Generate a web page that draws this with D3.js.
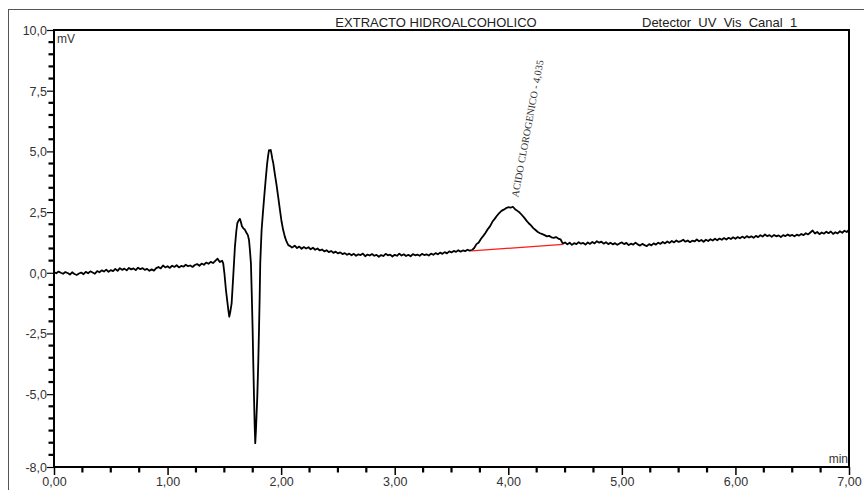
<!DOCTYPE html>
<html><head><meta charset="utf-8">
<script src="https://cdn.jsdelivr.net/npm/d3@7"></script>
<style>
html,body{margin:0;padding:0;background:#fff;}
svg{display:block;}
</style></head>
<body>
<svg id="chart" width="864" height="490"></svg>
<script>
// ---------- DATA ----------
const title = "EXTRACTO HIDROALCOHOLICO";
const detectorLabel = "Detector  UV  Vis  Canal  1";
const yUnit = "mV";
const xUnit = "min";
const peakLabel = "ACIDO CLOROGENICO - 4,035";
const xTickValues = [0,1,2,3,4,5,6,7];
const xMinorTicks = [0.25,0.5,0.75,1.25,1.5,1.75,2.25,2.5,2.75,3.25,3.5,3.75,4.25,4.5,4.75,5.25,5.5,5.75,6.25,6.5,6.75];
const yTickValues = [10,7.5,5,2.5,0,-2.5,-5,-8];
const yMinorTicks = [9.5,9,8.5,8,7,6.5,6,5.5,4.5,4,3.5,3,2,1.5,1,0.5,-0.5,-1,-1.5,-2,-3,-3.5,-4,-4.5,-5.5,-6,-6.5,-7,-7.5];
// integration baseline of the chlorogenic acid peak [min, mV]
const peakBaseline = [[3.677,0.90],[4.483,1.17]];

// chromatogram trace, [time (min), signal (mV)]
const traceStart = [
[0.00,0.03],[0.02,-0.02],[0.04,0.05],[0.06,0.00],[0.08,-0.04],[0.10,0.03],[0.12,-0.01],[0.14,-0.07],[0.16,0.02],[0.18,-0.05],
[0.20,-0.09],[0.22,-0.03],[0.24,0.01],[0.26,-0.06],[0.28,0.04],[0.30,-0.02],[0.32,0.06],[0.34,0.01],[0.36,-0.04],[0.38,0.07],
[0.40,0.02],[0.42,0.10],[0.44,0.05],[0.46,0.13],[0.48,0.04],[0.50,0.11],[0.52,0.07],[0.54,0.16],[0.56,0.08],[0.58,0.19],
[0.60,0.12],[0.62,0.17],[0.64,0.10],[0.66,0.20],[0.68,0.14],[0.70,0.18],[0.72,0.11],[0.74,0.21],[0.76,0.15],[0.78,0.19],
[0.80,0.12],[0.82,0.16],[0.84,0.08],[0.86,0.14],[0.88,0.09],[0.90,0.19],[0.92,0.24],[0.94,0.18],[0.96,0.30],[0.98,0.22],
[1.00,0.27],[1.02,0.20],[1.04,0.29],[1.06,0.24],[1.08,0.31],[1.10,0.22],[1.12,0.28],[1.14,0.25],[1.16,0.33],[1.18,0.27],
[1.20,0.30],[1.22,0.24],[1.24,0.32],[1.26,0.36],[1.28,0.29],[1.30,0.38],[1.32,0.33],[1.34,0.42],[1.36,0.37],[1.38,0.45],
[1.40,0.40],[1.42,0.49],[1.44,0.58],[1.46,0.44],[1.48,0.50]
];
const traceSolventFront = [
[1.490,0.39],[1.500,0.00],[1.514,-0.71],[1.525,-1.15],[1.535,-1.53],[1.543,-1.81],[1.552,-1.62],[1.564,-1.26],[1.578,-0.16],
[1.593,1.07],[1.605,1.70],[1.614,2.04],[1.625,2.15],[1.637,2.22],[1.645,2.10],[1.655,1.92],[1.667,1.83],[1.680,1.78],
[1.696,1.64],[1.707,1.55],[1.717,1.35],[1.725,0.94],[1.734,0.39],[1.742,-1.0],[1.749,-2.36],[1.755,-3.8],[1.761,-5.1],
[1.767,-6.3],[1.772,-7.02],[1.778,-6.5],[1.784,-5.8],[1.790,-5.1],[1.798,-3.8],[1.805,-2.36],[1.811,-1.0],[1.816,0.39],
[1.822,1.1],[1.828,1.76],[1.840,2.5],[1.851,3.13],[1.864,3.85],[1.877,4.51],[1.886,4.85],[1.893,5.05],[1.901,5.03],
[1.908,5.06],[1.915,4.90],[1.922,4.70],[1.931,4.51],[1.945,4.05],[1.960,3.60],[1.974,3.13],[1.989,2.60],[2.004,2.10],
[2.018,1.76],[2.033,1.48],[2.048,1.28],[2.063,1.14],[2.080,1.10],[2.095,1.04],[2.107,1.07]
];
const traceMid = [
[2.12,1.12],[2.14,1.02],[2.16,1.08],[2.18,0.99],[2.20,1.06],[2.22,1.00],[2.24,1.05],[2.26,0.97],[2.28,1.03],[2.30,0.95],
[2.32,1.00],[2.34,0.92],[2.36,0.96],[2.38,0.88],[2.40,0.93],[2.42,0.85],[2.44,0.90],[2.46,0.82],[2.48,0.87],[2.50,0.80],
[2.52,0.84],[2.54,0.77],[2.56,0.81],[2.58,0.74],[2.60,0.79],[2.62,0.72],[2.64,0.78],[2.66,0.70],[2.68,0.76],[2.70,0.73],
[2.72,0.79],[2.74,0.68],[2.76,0.75],[2.78,0.71],[2.80,0.77],[2.82,0.70],[2.84,0.74],[2.86,0.66],[2.88,0.73],[2.90,0.69],
[2.92,0.78],[2.94,0.72],[2.96,0.75],[2.98,0.67],[3.00,0.74],[3.02,0.70],[3.04,0.79],[3.06,0.71],[3.08,0.76],[3.10,0.69],
[3.12,0.74],[3.14,0.68],[3.16,0.77],[3.18,0.72],[3.20,0.75],[3.22,0.70],[3.24,0.78],[3.26,0.73],[3.28,0.76],[3.30,0.71],
[3.32,0.79],[3.34,0.74],[3.36,0.81],[3.38,0.76],[3.40,0.83],[3.42,0.78],[3.44,0.85],[3.46,0.80],[3.48,0.88],[3.50,0.84],
[3.52,0.90],[3.54,0.86],[3.56,0.93],[3.58,0.87],[3.60,0.92],[3.62,0.89],[3.64,0.95],[3.66,0.91],[3.68,0.93]
];
const traceAcidPeak = [
[3.70,1.02],[3.72,1.18],[3.74,1.25],[3.76,1.40],[3.78,1.52],[3.80,1.65],[3.82,1.80],[3.84,1.92],[3.86,2.10],[3.88,2.22],
[3.90,2.35],[3.92,2.46],[3.94,2.55],[3.96,2.60],[3.98,2.66],[4.00,2.70],[4.02,2.68],[4.04,2.72],[4.06,2.62],[4.08,2.55],
[4.10,2.48],[4.12,2.38],[4.14,2.27],[4.16,2.15],[4.18,2.04],[4.20,1.95],[4.22,1.84],[4.24,1.76],[4.26,1.68],[4.28,1.63],
[4.30,1.59],[4.32,1.55],[4.34,1.50],[4.36,1.52],[4.38,1.46],[4.40,1.44],[4.42,1.47],[4.44,1.41],[4.46,1.38],[4.48,1.20],
[4.50,1.25]
];
const traceEnd = [
[4.52,1.17],[4.54,1.24],[4.56,1.15],[4.58,1.22],[4.60,1.18],[4.62,1.26],[4.64,1.20],[4.66,1.23],[4.68,1.16],[4.70,1.25],
[4.72,1.19],[4.74,1.27],[4.76,1.21],[4.78,1.30],[4.80,1.24],[4.82,1.28],[4.84,1.20],[4.86,1.26],[4.88,1.18],[4.90,1.24],
[4.92,1.17],[4.94,1.22],[4.96,1.15],[4.98,1.21],[5.00,1.25],[5.02,1.18],[5.04,1.23],[5.06,1.14],[5.08,1.20],[5.10,1.16],
[5.12,1.24],[5.14,1.17],[5.16,1.12],[5.18,1.19],[5.20,1.14],[5.22,1.10],[5.24,1.18],[5.26,1.13],[5.28,1.21],[5.30,1.16],
[5.32,1.24],[5.34,1.19],[5.36,1.27],[5.38,1.21],[5.40,1.29],[5.42,1.23],[5.44,1.31],[5.46,1.25],[5.48,1.33],[5.50,1.27],
[5.52,1.30],[5.54,1.36],[5.56,1.28],[5.58,1.33],[5.60,1.26],[5.62,1.32],[5.64,1.29],[5.66,1.37],[5.68,1.30],[5.70,1.35],
[5.72,1.28],[5.74,1.36],[5.76,1.31],[5.78,1.38],[5.80,1.33],[5.82,1.40],[5.84,1.34],[5.86,1.41],[5.88,1.36],[5.90,1.43],
[5.92,1.37],[5.94,1.44],[5.96,1.39],[5.98,1.46],[6.00,1.40],[6.02,1.47],[6.04,1.42],[6.06,1.49],[6.08,1.43],[6.10,1.51],
[6.12,1.45],[6.14,1.50],[6.16,1.44],[6.18,1.52],[6.20,1.47],[6.22,1.55],[6.24,1.49],[6.26,1.58],[6.28,1.51],[6.30,1.55],
[6.32,1.48],[6.34,1.56],[6.36,1.50],[6.38,1.54],[6.40,1.47],[6.42,1.55],[6.44,1.51],[6.46,1.58],[6.48,1.52],[6.50,1.56],
[6.52,1.50],[6.54,1.57],[6.56,1.53],[6.58,1.60],[6.60,1.55],[6.62,1.63],[6.64,1.58],[6.66,1.66],[6.68,1.74],[6.70,1.62],
[6.72,1.68],[6.74,1.59],[6.76,1.66],[6.78,1.61],[6.80,1.69],[6.82,1.63],[6.84,1.70],[6.86,1.60],[6.88,1.67],[6.90,1.62],
[6.92,1.71],[6.94,1.65],[6.96,1.73],[6.98,1.68],[7.00,1.76]
];
const peakApex = [4.035, 2.72];

// ---------- CHART ----------
const SANS = "'Liberation Sans', Arial, sans-serif";
const SERIF = "'Liberation Serif', 'Times New Roman', serif";
const svg = d3.select("#chart");
const M = {left:54, top:30, right:849, bottom:467};
const x = d3.scaleLinear().domain([0,7]).range([M.left, M.right]);
const y = d3.scaleLinear().domain([-8,10]).range([M.bottom, M.top]);
const loc = d3.formatLocale({decimal:",", thousands:".", grouping:[3], currency:["",""], minus:"-"});
const fy = loc.format(".1f"), fx = loc.format(".2f");

// outer frame
svg.append("rect").attr("x",8.5).attr("y",9.5).attr("width",900).attr("height",600)
  .attr("fill","none").attr("stroke","#555").attr("stroke-width",1);

// titles
svg.append("text").attr("x",436).attr("y",27).attr("text-anchor","middle")
  .style("font-family",SANS).style("font-size","13px").attr("fill","#222").text(title);
svg.append("text").attr("x",642).attr("y",27).style("font-family",SANS).style("font-size","13px")
  .attr("fill","#222").style("white-space","pre").text(detectorLabel);

// minor ticks
svg.append("g").selectAll("line").data(yMinorTicks).join("line")
  .attr("x1",M.left-5.5).attr("x2",M.left).attr("y1",d=>y(d)).attr("y2",d=>y(d))
  .attr("stroke","#000").attr("stroke-width",2.2);
svg.append("g").selectAll("line").data(xMinorTicks).join("line")
  .attr("y1",M.bottom).attr("y2",M.bottom+5.5).attr("x1",d=>x(d)).attr("x2",d=>x(d))
  .attr("stroke","#000").attr("stroke-width",2.2);

// major axes
const yAx = svg.append("g").attr("transform",`translate(${M.left},0)`)
  .call(d3.axisLeft(y).tickValues(yTickValues).tickSize(7).tickPadding(0).tickFormat(fy));
yAx.select(".domain").remove();
yAx.selectAll("line").attr("stroke","#000").attr("stroke-width",1.2);
yAx.selectAll("text").style("font-family",SANS).style("font-size","12.5px").attr("fill","#333").attr("dy","0.35em");

const xAx = svg.append("g").attr("transform",`translate(0,${M.bottom})`)
  .call(d3.axisBottom(x).tickValues(xTickValues).tickSize(8).tickPadding(2).tickFormat(fx));
xAx.select(".domain").remove();
xAx.selectAll("line").attr("stroke","#000").attr("stroke-width",1.5);
xAx.selectAll("text").style("font-family",SANS).style("font-size","12.5px").attr("fill","#333");

// plot box
svg.append("rect").attr("x",M.left).attr("y",M.top)
  .attr("width",M.right-M.left).attr("height",M.bottom-M.top)
  .attr("fill","none").attr("stroke","#000").attr("stroke-width",2);

// unit labels
svg.append("text").attr("x",M.left+3).attr("y",M.top+13).style("font-family",SANS).style("font-size","12px")
  .attr("fill","#333").text(yUnit);
svg.append("text").attr("x",M.right-1).attr("y",M.bottom-4).attr("text-anchor","end")
  .style("font-family",SANS).style("font-size","12px").attr("fill","#333").text(xUnit);

// trace
const trace = [].concat(traceStart, traceSolventFront, traceMid, traceAcidPeak, traceEnd);
const line = d3.line().x(d=>x(d[0])).y(d=>y(d[1]));
svg.append("path").datum(trace).attr("d",line).attr("fill","none")
  .attr("stroke","#000").attr("stroke-width",1.8).attr("stroke-linejoin","round");

// peak baseline
svg.append("path").datum(peakBaseline).attr("d",line).attr("fill","none")
  .attr("stroke","#ff1a1a").attr("stroke-width",1.3);

// peak label
const lx = x(peakApex[0]) + 6, ly = y(peakApex[1]) - 9;
svg.append("text").attr("transform",`translate(${lx},${ly}) rotate(-79.5)`)
  .style("font-family",SERIF).style("font-size","10.2px").attr("fill","#333").text(peakLabel);
</script>
</body></html>
